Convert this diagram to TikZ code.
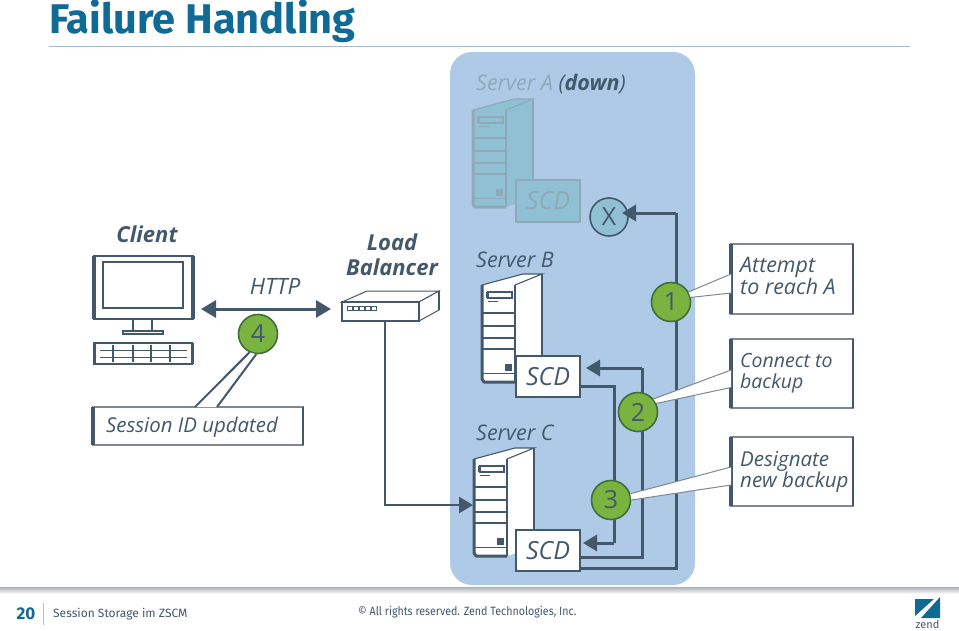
\documentclass[tikz,border=0pt]{standalone}
\usepackage{fontspec}
\setmainfont{Fira Sans}
\newfontfamily\handfont{Open Sans}
\newfontfamily\footnarrow[FakeStretch=0.89]{Fira Sans}
\usetikzlibrary{arrows.meta}
\definecolor{ink}{HTML}{44586B}
\definecolor{fadedink}{HTML}{8FA9B8}
\definecolor{panel}{HTML}{AECAE6}
\definecolor{fadedfill}{HTML}{8FC0D3}
\definecolor{badge}{HTML}{7AB340}
\definecolor{badgeedge}{HTML}{3F6E3C}
\definecolor{zendblue}{HTML}{0F6A96}
\definecolor{rulegray}{HTML}{7F8890}

\tikzset{
  x=1pt, y=-1pt,
  hand/.style={font=\handfont\itshape\fontsize{#1}{21}\selectfont, text=ink, inner sep=0pt},
  hand/.default=20.5,
  handstrong/.style={font=\handfont\bfseries\itshape\fontsize{22}{25}\selectfont, text=ink, inner sep=0pt, align=center},
  notebox/.style={draw=rulegray, fill=white, line width=1.4pt, inner sep=0pt, outer sep=0pt, anchor=north west},
  scdbox/.style={draw=ink, fill=white, line width=1.8pt, inner sep=0pt, minimum width=64pt, minimum height=41pt,
    font=\handfont\itshape\fontsize{25}{25}\selectfont, text=ink},
  flow/.style={draw=ink, line width=3pt, -{Triangle[length=14pt,width=16pt]}},
  badgecircle/.style={circle, draw=badgeedge, fill=badge, line width=1.6pt, minimum size=39pt, inner sep=0pt,
    font=\handfont\fontsize{25}{25}\selectfont, text=ink},
  calloutwedge/.style={fill=white, draw=none},
  calloutedge/.style={draw=rulegray, line width=1pt},
  equip/.style={draw=ink, line width=1.4pt, fill=white},
  footertext/.style={font=\fontsize{12}{14}\selectfont, text=ink, inner sep=0pt, anchor=west}
}

% Tower server: #1,#2 front top-left corner, #3 body fill, #4 outline colour
\newcommand{\towerserver}[4]{%
  \begin{scope}[shift={(#1,#2)}]
    \fill[#3] (0,0) -- (41,-11) -- (60,-11) -- (60,88) -- (33,97) -- (0,97) -- cycle;
    \draw[#4, line width=1.1pt] (0,0) -- (41,-11) -- (60,-11) -- (33,0);
    \draw[#4, line width=2.6pt] (60,-11) -- (60,80);
    \draw[#4, line width=2pt] (33,0) -- (33,97);
    \draw[#4, line width=3pt, line join=round] (0,0) -- (0,94) -- (2,97) -- (33,97);
    \draw[#4, line width=1.2pt, fill=#3] (6,7) rectangle (30,13);
    \fill[#4] (4,7) rectangle (7,13);
    \draw[#4, line width=.7pt] (6,16) -- (16,16);
    \foreach \rowy in {28,41,53,64}
      \draw[#4, line width=1.1pt] (1,\rowy) -- (33,\rowy);
    \draw[#4, line width=1pt] (1,88) -- (33,88);
    \fill[#4] (23,79) rectangle (30,86);
  \end{scope}}

% Thick dark side bars on a note box
\newcommand{\noteside}[1]{%
  \draw[ink, line width=3.2pt] (#1.north west) -- (#1.south west);
  \draw[ink, line width=2.4pt] (#1.north east) -- (#1.south east);}

\begin{document}
\begin{tikzpicture}
\useasboundingbox (0,0) rectangle (959,630);
\fill[white] (0,0) rectangle (959,630);

% heading
\node[font=\bfseries\fontsize{41.5}{44}\selectfont, text=zendblue, anchor=base west, inner sep=0pt] (heading) at (49,33) {Failure Handling};
\draw[color=panel!80!gray, line width=1pt] (49,46) -- (910,46);

% server panel
\fill[panel, rounded corners=22pt] (450,52) rectangle (695,585);

% client workstation
\draw[ink, line width=2.4pt, fill=white] (133,319) rectangle (152,331);
\draw[ink, line width=1.8pt, fill=white] (123,331) rectangle (163,334);
\draw[equip, line width=1.8pt] (94,256) rectangle (193,319);
\draw[ink, line width=3.2pt] (94,256) -- (94,319) (193,256) -- (193,319);
\draw[ink, line width=1.6pt] (103,262) rectangle (183,308);
\draw[ink, line width=2.6pt] (103,262) -- (103,308) (183,262) -- (183,308);
\draw[equip, line width=1.8pt] (94,343) rectangle (192,364);
\draw[ink, line width=3pt] (94,343) -- (94,364) (192,343) -- (192,364);
\foreach \keyrow in {350,357} \draw[ink, line width=.7pt] (100,\keyrow) -- (187,\keyrow);
\foreach \keycol in {113,133,151,170} \draw[ink, line width=2.4pt] (\keycol,345) -- (\keycol,362);

% load balancer
\draw[equip, line width=1pt] (342,302) -- (367,291) -- (439,291) -- (419,302) -- cycle;
\draw[equip, line width=1pt] (419,302) -- (439,291) -- (439,310) -- (419,321) -- cycle;
\draw[equip, line width=2pt] (342,302) rectangle (419,321);
\draw[ink, line width=2.4pt] (439,291) -- (439,310);
\foreach \ledx in {347,353,359,365,371} \draw[ink, line width=1pt, fill=white] (\ledx,306.5) rectangle +(5,4);
\coordinate (lbOut) at (385,321);

% servers
\towerserver{473}{110}{fadedfill}{fadedink}
\towerserver{482}{285}{white}{ink}
\towerserver{474}{459}{white}{ink}

\node[scdbox, draw=fadedink, fill=fadedfill, text=fadedink, line width=2pt, minimum height=42pt] (scdA) at (548,201) {SCD};
\node[scdbox] (scdB) at (548,376.5) {SCD};
\node[scdbox] (scdC) at (548,550.5) {SCD};
\node[circle, draw=ink, fill=fadedfill, line width=1.6pt, minimum size=38pt, inner sep=0pt,
  font=\handfont\fontsize{25}{25}\selectfont, text=ink] (down) at (609,217) {X};

% server labels
\node[hand=21.5, anchor=west, text=fadedink] (labelA) at (476,84) {Server A \textcolor{ink}{(\textbf{down})}};
\node[hand=21.5, anchor=west] (labelB) at (476,260) {Server B};
\node[hand=21.5, anchor=west] (labelC) at (476,433) {Server C};

% client and balancer labels
\node[handstrong] (labelClient) at (147,234) {Client};
\node[handstrong] (labelLB) at (392,255) {Load\\Balancer};
\node[hand=22.5] (labelHTTP) at (275,286) {HTTP};

% connectors
\coordinate (clientPort) at (201,309);
\coordinate (lbPort) at (331,309);
\draw[flow, {Triangle[length=15pt,width=17pt]}-{Triangle[length=15pt,width=17pt]}] (clientPort) -- (lbPort);

\coordinate (serverCPort) at (473,505);
\draw[flow, line width=2.6pt] (lbOut) |- (serverCPort);

\coordinate (stepOneRise) at (676,213);
\draw[draw=ink, line width=3pt] ([yshift=-17.5pt]scdC.east) -| (stepOneRise);
\draw[flow] (stepOneRise) -- ([xshift=13pt,yshift=4pt]down.center);

\coordinate (stepTwoRise) at (642,368);
\coordinate (scdBIn) at (586,368);
\draw[draw=ink, line width=3pt] ([yshift=-6.5pt]scdC.east) -| (stepTwoRise);
\draw[flow] (stepTwoRise) -- (scdBIn);

\coordinate (stepThreeDrop) at (614,543);
\coordinate (scdCIn) at (583,543);
\draw[draw=ink, line width=3pt] ([yshift=-9.5pt]scdB.east) -| (stepThreeDrop);
\draw[flow] (stepThreeDrop) -- (scdCIn);

% numbered steps
\node[badgecircle] (one) at (671,302) {1};
\node[badgecircle] (two) at (638,412) {2};
\node[badgecircle] (three) at (611,500) {3};
\node[badgecircle] (four) at (258,334) {4};

% note boxes
\node[notebox, minimum width=122pt, minimum height=70pt] (noteOne) at (731,244) {};
\node[notebox, minimum width=122pt, minimum height=69pt] (noteTwo) at (731,339) {};
\node[notebox, minimum width=122pt, minimum height=69pt] (noteThree) at (731,437) {};
\node[notebox, minimum width=210pt, minimum height=38pt] (noteFour) at (93,407) {};
\noteside{noteOne}\noteside{noteTwo}\noteside{noteThree}\noteside{noteFour}

% callout wedges from steps to notes
\fill[calloutwedge] (one.30) -- ([yshift=5pt]noteOne.west) -- ([yshift=-14pt]noteOne.west) -- (one.13) -- cycle;
\draw[calloutedge] (one.30) -- ([yshift=5pt]noteOne.west);
\draw[calloutedge] (one.13) -- ([yshift=-14pt]noteOne.west);
\fill[calloutwedge] (two.40) -- ([yshift=3.5pt]noteTwo.west) -- ([yshift=-14pt]noteTwo.west) -- (two.25) -- cycle;
\draw[calloutedge] (two.40) -- ([yshift=3.5pt]noteTwo.west);
\draw[calloutedge] (two.25) -- ([yshift=-14pt]noteTwo.west);
\fill[calloutwedge] (three.18) -- ([yshift=4.5pt]noteThree.west) -- ([yshift=-13.5pt]noteThree.west) -- (three.0) -- cycle;
\draw[calloutedge] (three.18) -- ([yshift=4.5pt]noteThree.west);
\draw[calloutedge] (three.0) -- ([yshift=-13.5pt]noteThree.west);
\fill[calloutwedge] (four.245) -- ([xshift=-3pt]noteFour.north) -- ([xshift=19pt]noteFour.north) -- (four.265) -- cycle;
\draw[ink, line width=2pt] (four.245) -- ([xshift=-3pt]noteFour.north);
\draw[ink, line width=2pt] (four.265) -- ([xshift=19pt]noteFour.north);

% note texts
\node[hand=21.4, anchor=north west, align=left] (textOne) at (740,257) {Attempt\\to reach A};
\node[hand=19.5, anchor=north west, align=left] (textTwo) at (740,353) {Connect to\\backup};
\node[hand=20.5, anchor=north west, align=left] (textThree) at (740,451) {Designate\\new backup};
\node[hand=20.4, anchor=west] (textFour) at (106,427) {Session ID updated};

% footer
\shade[top color=rulegray!60, bottom color=white] (0,587.5) rectangle (959,594);
\node[font=\bfseries\fontsize{17}{19}\selectfont, text=zendblue, inner sep=0pt] (pageNo) at (26,613.5) {20};
\draw[color=gray!50, line width=.8pt] (43,603) -- (43,625);
\node[footertext] (deck) at (53,614.5) {Session Storage im ZSCM};
\node[footertext, font=\footnarrow\fontsize{12}{14}\selectfont] (rights) at (358,612.5) {© All rights reserved. Zend Technologies, Inc.};

% company mark
\fill[zendblue] (915,599) -- (934,599) -- (915,616) -- cycle;
\fill[zendblue] (940,597) -- (940,618) -- (921,618) -- cycle;
\node[font=\fontsize{11}{11}\selectfont, text=ink, inner sep=0pt] (mark) at (927.5,624) {zend};
\end{tikzpicture}
\end{document}
